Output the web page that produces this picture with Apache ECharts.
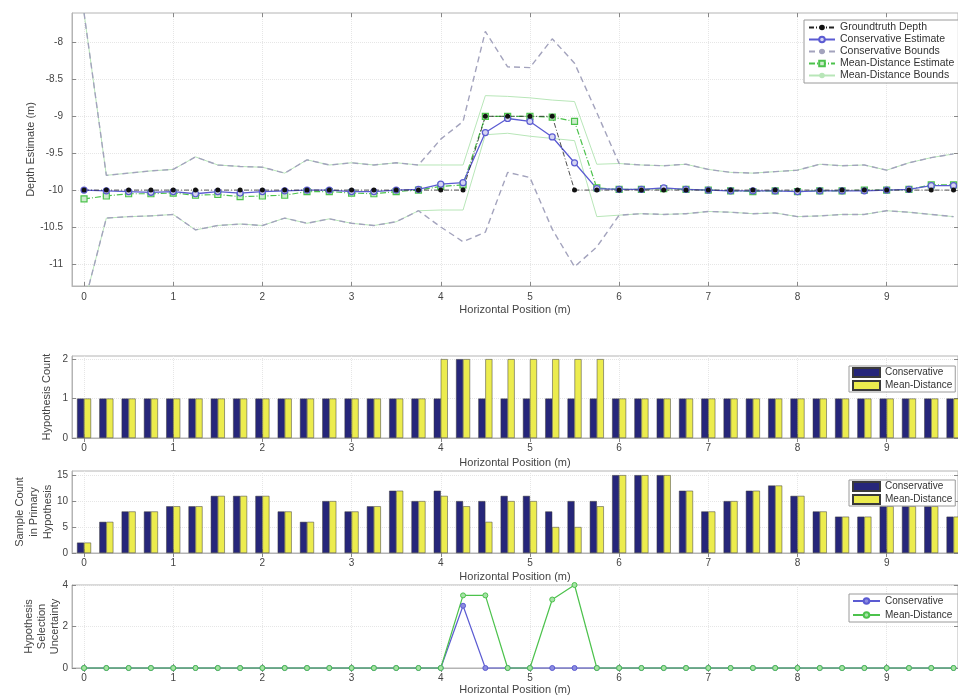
<!DOCTYPE html>
<html>
<head>
<meta charset="utf-8">
<title>Depth estimation along the survey line</title>
<script src="https://cdn.jsdelivr.net/npm/echarts@6/dist/echarts.min.js"></script>
<style>
  html, body { margin: 0; padding: 0; background: #fff; }
  #chart { width: 958px; height: 697px; }
</style>
</head>
<body>
<div id="chart"></div>
<script>
// Sample positions along the line (m)
const positions = [0, 0.25, 0.5, 0.75, 1, 1.25, 1.5, 1.75, 2, 2.25, 2.5, 2.75, 3, 3.25, 3.5, 3.75,
  4, 4.25, 4.5, 4.75, 5, 5.25, 5.5, 5.75, 6, 6.25, 6.5, 6.75, 7, 7.25, 7.5, 7.75,
  8, 8.25, 8.5, 8.75, 9, 9.25, 9.5, 9.75];

// Depth panel (m)
const groundtruthDepth = [-10, -10, -10, -10, -10, -10, -10, -10, -10, -10, -10, -10, -10, -10, -10, -10,
  -10, -10, -9, -9, -9, -9, -10, -10, -10, -10, -10, -10, -10, -10, -10, -10,
  -10, -10, -10, -10, -10, -10, -10, -10];
const conservativeEstimate = [-10.0, -10.01, -10.02, -10.03, -10.02, -10.05, -10.02, -10.04, -10.02, -10.01, -10.0, -10.0, -10.02, -10.02, -10.0, -9.99,
  -9.92, -9.9, -9.22, -9.03, -9.07, -9.28, -9.63, -9.98,
  -9.99, -9.99, -9.97, -9.99, -10.0, -10.01, -10.01, -10.01, -10.02, -10.01, -10.01, -10.01, -10.0, -9.99, -9.94, -9.94];
const conservativeUpper = [-7.6, -9.8, -9.77, -9.74, -9.72, -9.55, -9.66, -9.68, -9.69, -9.77, -9.59, -9.66, -9.63, -9.66, -9.63, -9.66,
  -9.31, -9.07, -7.85, -8.33, -8.34, -7.95, -8.28, -8.95,
  -9.64, -9.66, -9.67, -9.65, -9.72, -9.76, -9.77, -9.75, -9.73, -9.65, -9.67, -9.66, -9.73, -9.63, -9.56, -9.51];
const conservativeLower = [-11.55, -10.38, -10.36, -10.35, -10.33, -10.54, -10.48, -10.46, -10.48, -10.38, -10.45, -10.39, -10.45, -10.48, -10.43, -10.28,
  -10.5, -10.7, -10.57, -9.76, -9.83, -10.53, -11.04, -10.77,
  -10.34, -10.32, -10.33, -10.32, -10.29, -10.3, -10.32, -10.31, -10.36, -10.35, -10.33, -10.33, -10.28, -10.3, -10.33, -10.36];
const meanDistanceEstimate = [-10.12, -10.08, -10.05, -10.05, -10.04, -10.07, -10.06, -10.09, -10.08, -10.07, -10.02, -10.02, -10.04, -10.05, -10.02, -10.0,
  -9.95, -9.93, -9.0, -9.0, -9.0, -9.01, -9.07, -9.97,
  -9.99, -9.99, -9.98, -9.99, -10.0, -10.01, -10.02, -10.01, -10.02, -10.01, -10.01, -10.0, -10.0, -9.99, -9.93, -9.93];
const meanDistanceUpper = [-7.6, -9.8, -9.77, -9.74, -9.72, -9.55, -9.66, -9.68, -9.69, -9.77, -9.59, -9.66, -9.63, -9.66, -9.63, -9.66,
  -9.66, -9.66, -8.72, -8.73, -8.75, -8.78, -8.8, -9.65,
  -9.64, -9.66, -9.67, -9.65, -9.72, -9.76, -9.77, -9.75, -9.73, -9.65, -9.67, -9.66, -9.73, -9.63, -9.56, -9.51];
const meanDistanceLower = [-11.55, -10.38, -10.36, -10.35, -10.33, -10.54, -10.48, -10.46, -10.48, -10.38, -10.45, -10.39, -10.45, -10.48, -10.43, -10.28,
  -10.27, -10.27, -9.25, -9.23, -9.27, -9.3, -9.33, -10.36,
  -10.34, -10.32, -10.33, -10.32, -10.29, -10.3, -10.32, -10.31, -10.36, -10.35, -10.33, -10.33, -10.28, -10.3, -10.33, -10.36];

// Hypothesis count per position
const hypCountConservative = [1, 1, 1, 1, 1, 1, 1, 1, 1, 1, 1, 1, 1, 1, 1, 1,
  1, 2, 1, 1, 1, 1, 1, 1, 1, 1, 1, 1, 1, 1, 1, 1, 1, 1, 1, 1, 1, 1, 1, 1];
const hypCountMeanDistance = [1, 1, 1, 1, 1, 1, 1, 1, 1, 1, 1, 1, 1, 1, 1, 1,
  2, 2, 2, 2, 2, 2, 2, 2, 1, 1, 1, 1, 1, 1, 1, 1, 1, 1, 1, 1, 1, 1, 1, 1];

// Samples in the primary hypothesis
const samplesConservative = [2, 6, 8, 8, 9, 9, 11, 11, 11, 8, 6, 10, 8, 9, 12, 10,
  12, 10, 10, 11, 11, 8, 10, 10,
  15, 15, 15, 12, 8, 10, 12, 13, 11, 8, 7, 7, 9, 9, 9, 7];
const samplesMeanDistance = [2, 6, 8, 8, 9, 9, 11, 11, 11, 8, 6, 10, 8, 9, 12, 10,
  11, 9, 6, 10, 10, 5, 5, 9,
  15, 15, 15, 12, 8, 10, 12, 13, 11, 8, 7, 7, 9, 9, 9, 7];

// Hypothesis selection uncertainty
const uncertaintyConservative = [0, 0, 0, 0, 0, 0, 0, 0, 0, 0, 0, 0, 0, 0, 0, 0,
  0, 3, 0, 0, 0, 0, 0, 0, 0, 0, 0, 0, 0, 0, 0, 0, 0, 0, 0, 0, 0, 0, 0, 0];
const uncertaintyMeanDistance = [0, 0, 0, 0, 0, 0, 0, 0, 0, 0, 0, 0, 0, 0, 0, 0,
  0, 3.5, 3.5, 0, 0, 3.3, 4, 0, 0, 0, 0, 0, 0, 0, 0, 0, 0, 0, 0, 0, 0, 0, 0, 0];

// Tick positions
const xTickValues = [0, 1, 2, 3, 4, 5, 6, 7, 8, 9];
const depthTicks = [-11, -10.5, -10, -9.5, -9, -8.5, -8];
const hypCountTicks = [0, 1, 2];
const sampleTicks = [0, 5, 10, 15];
const uncertaintyTicks = [0, 2, 4];

const FONT = '"Liberation Sans", Arial, Helvetica, sans-serif';
const X_MIN = -0.135, X_MAX = 9.8;
const C = {
  navy: '#26267a', yellow: '#ecec4e', blue: '#5b5bd2', bound: '#a3a3bd',
  green: '#4cc24c', lightGreen: '#b8e6b8', axis: '#b4b4b4', text: '#444', grid: '#e6e6e6'
};

const pairs = (ys) => positions.map((x, i) => [x, ys[i]]);

const grids = [
  { left: 72, right: 0, top: 13, height: 273 },
  { left: 72, right: 0, top: 356, height: 82 },
  { left: 72, right: 0, top: 471, height: 82 },
  { left: 72, right: 0, top: 585, height: 83 }
].map(g => Object.assign({
  show: true, borderColor: C.axis, borderWidth: 1, backgroundColor: '#fff',
  containLabel: false, outerBoundsMode: 'none'
}, g));

function bottomXAxis(gridIndex, labelMargin, nameGap) {
  return {
    type: 'value', gridIndex, min: X_MIN, max: X_MAX, position: 'bottom',
    name: 'Horizontal Position (m)', nameLocation: 'middle', nameGap, nameMoveOverlap: false,
    nameTextStyle: { fontFamily: FONT, fontSize: 11, color: C.text },
    axisLine: { show: true, onZero: false, lineStyle: { color: C.axis } },
    axisTick: { show: true, inside: true, length: 4, customValues: xTickValues, lineStyle: { color: '#888' } },
    axisLabel: { customValues: xTickValues, margin: labelMargin, fontFamily: FONT, fontSize: 10, color: C.text },
    splitLine: { show: true, lineStyle: { color: C.grid, type: 'dotted' } }
  };
}
function topXAxis(gridIndex) {
  return {
    type: 'value', gridIndex, min: X_MIN, max: X_MAX, position: 'top',
    axisLine: { show: false },
    axisTick: { show: true, inside: true, length: 4, customValues: xTickValues, lineStyle: { color: '#888' } },
    axisLabel: { show: false }, splitLine: { show: false }
  };
}
function leftYAxis(gridIndex, min, max, ticks, name, nameGap, labelMargin, lineHeight) {
  return {
    type: 'value', gridIndex, min, max, position: 'left',
    name, nameLocation: 'middle', nameGap, nameRotate: 90, nameMoveOverlap: false,
    nameTextStyle: { fontFamily: FONT, fontSize: 11, color: C.text, lineHeight: lineHeight || 13, align: 'center' },
    axisLine: { show: true, onZero: false, lineStyle: { color: C.axis } },
    axisTick: { show: true, inside: true, length: 4, customValues: ticks, lineStyle: { color: '#888' } },
    axisLabel: { customValues: ticks, margin: labelMargin, fontFamily: FONT, fontSize: 10, color: C.text },
    splitLine: { show: true, lineStyle: { color: C.grid, type: 'dotted' } }
  };
}
function rightYAxis(gridIndex, min, max, ticks) {
  return {
    type: 'value', gridIndex, min, max, position: 'right',
    axisLine: { show: false, onZero: false },
    axisTick: { show: true, inside: true, length: 4, customValues: ticks, lineStyle: { color: '#888' } },
    axisLabel: { show: false }, splitLine: { show: false }
  };
}

const xAxes = [
  bottomXAxis(0, 6, 18), bottomXAxis(1, 5, 19), bottomXAxis(2, 5, 18), bottomXAxis(3, 5, 16),
  topXAxis(0), topXAxis(1), topXAxis(2), topXAxis(3)
];
const yAxes = [
  leftYAxis(0, -11.3, -7.6, depthTicks, 'Depth Estimate (m)', 35, 9),
  leftYAxis(1, 0, 2.08, hypCountTicks, 'Hypothesis Count', 19, 4),
  leftYAxis(2, 0, 15.8, sampleTicks, 'Sample Count\nin Primary\nHypothesis', 17, 4, 14),
  leftYAxis(3, 0, 4, uncertaintyTicks, 'Hypothesis\nSelection\nUncertainty', 11, 4, 13),
  rightYAxis(0, -11.3, -7.6, depthTicks), rightYAxis(1, 0, 2.08, hypCountTicks),
  rightYAxis(2, 0, 15.8, sampleTicks), rightYAxis(3, 0, 4, uncertaintyTicks)
];

function lineSeries(name, data, axis, style) {
  return Object.assign({
    type: 'line', name, data: pairs(data), xAxisIndex: axis, yAxisIndex: axis,
    symbol: 'none', silent: true, animation: false, clip: true
  }, style);
}
function barSeries(name, data, axis, color) {
  return {
    type: 'bar', name, data: pairs(data), xAxisIndex: axis, yAxisIndex: axis,
    barWidth: 7, barGap: '0%', animation: false, silent: true,
    itemStyle: { color, borderColor: '#3a3a3a', borderWidth: 0.5 }
  };
}

const boundStyle = { lineStyle: { color: C.bound, width: 1.4, type: [6, 4] }, itemStyle: { color: C.bound } };
const mdBoundStyle = { lineStyle: { color: C.lightGreen, width: 1 }, itemStyle: { color: C.lightGreen } };

const series = [
  // depth panel: bounds first, estimates and groundtruth on top
  lineSeries('Mean-Distance Bounds', meanDistanceUpper, 0, mdBoundStyle),
  lineSeries('Mean-Distance Bounds', meanDistanceLower, 0, mdBoundStyle),
  lineSeries('Conservative Bounds', conservativeUpper, 0, boundStyle),
  lineSeries('Conservative Bounds', conservativeLower, 0, boundStyle),
  lineSeries('Mean-Distance Estimate', meanDistanceEstimate, 0, {
    symbol: 'rect', symbolSize: 6,
    lineStyle: { color: C.green, width: 1.2, type: [6, 2, 1, 2] },
    itemStyle: { color: '#cdeccd', borderColor: C.green, borderWidth: 1.2 }
  }),
  lineSeries('Conservative Estimate', conservativeEstimate, 0, {
    symbol: 'circle', symbolSize: 6,
    lineStyle: { color: C.blue, width: 1.3 },
    itemStyle: { color: '#d6d6f2', borderColor: C.blue, borderWidth: 1.2 }
  }),
  lineSeries('Groundtruth Depth', groundtruthDepth, 0, {
    symbol: 'circle', symbolSize: 5,
    lineStyle: { color: '#222', width: 0.8, type: [5, 2, 1, 2] },
    itemStyle: { color: '#111' }
  }),
  // hypothesis count
  barSeries('Conservative', hypCountConservative, 1, C.navy),
  barSeries('Mean-Distance', hypCountMeanDistance, 1, C.yellow),
  // samples in primary hypothesis
  barSeries('Conservative', samplesConservative, 2, C.navy),
  barSeries('Mean-Distance', samplesMeanDistance, 2, C.yellow),
  // selection uncertainty (line legend entries)
  lineSeries('Conservative ', uncertaintyConservative, 3, {
    symbol: 'circle', symbolSize: 5, clip: false,
    lineStyle: { color: C.blue, width: 1.2 },
    itemStyle: { color: '#8c8ce0', borderColor: C.blue, borderWidth: 1 }
  }),
  lineSeries('Mean-Distance ', uncertaintyMeanDistance, 3, {
    symbol: 'circle', symbolSize: 5, clip: false,
    lineStyle: { color: C.green, width: 1.2 },
    itemStyle: { color: '#a6e2a6', borderColor: C.green, borderWidth: 1 }
  })
];

const legendBase = {
  orient: 'vertical', backgroundColor: '#fff', borderColor: '#9a9a9a', borderWidth: 1,
  selectedMode: false, textStyle: { fontFamily: FONT, fontSize: 10, color: '#333' }
};

const option = {
  backgroundColor: '#fff',
  animation: false,
  grid: grids,
  xAxis: xAxes,
  yAxis: yAxes,
  legend: [
    Object.assign({}, legendBase, {
      left: 804, top: 20, itemWidth: 26, itemHeight: 7, itemGap: 1, padding: [2, 4, 2, 4],
      textStyle: { fontFamily: FONT, fontSize: 10.5, color: '#333', lineHeight: 10 },
      data: ['Groundtruth Depth', 'Conservative Estimate', 'Conservative Bounds', 'Mean-Distance Estimate', 'Mean-Distance Bounds']
    }),
    Object.assign({}, legendBase, {
      left: 849, top: 366, itemWidth: 27, itemHeight: 9, itemGap: 2, padding: [1, 3, 1, 3],
      textStyle: { fontFamily: FONT, fontSize: 10, color: '#333', lineHeight: 10 },
      data: [{ name: 'Conservative', icon: 'rect' }, { name: 'Mean-Distance', icon: 'rect' }]
    }),
    Object.assign({}, legendBase, {
      left: 849, top: 480, itemWidth: 27, itemHeight: 9, itemGap: 2, padding: [1, 3, 1, 3],
      textStyle: { fontFamily: FONT, fontSize: 10, color: '#333', lineHeight: 10 },
      data: [{ name: 'Conservative', icon: 'rect' }, { name: 'Mean-Distance', icon: 'rect' }]
    }),
    Object.assign({}, legendBase, {
      left: 849, top: 594, itemWidth: 27, itemHeight: 7, itemGap: 4, padding: [2, 3, 2, 3],
      textStyle: { fontFamily: FONT, fontSize: 10, color: '#333', lineHeight: 10 },
      data: ['Conservative ', 'Mean-Distance ']
    })
  ],
  series
};

const chart = echarts.init(document.getElementById('chart'), null, { renderer: 'canvas' });
chart.setOption(option);
</script>
</body>
</html>
